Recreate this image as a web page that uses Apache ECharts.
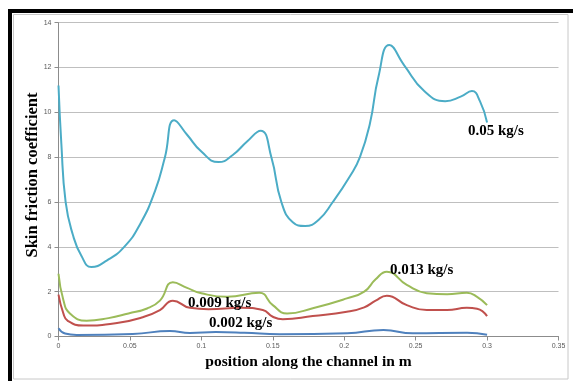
<!DOCTYPE html>
<html>
<head>
<meta charset="utf-8">
<script src="https://cdn.jsdelivr.net/npm/echarts@6/dist/echarts.min.js"></script>
<style>
  html, body { margin: 0; padding: 0; background: #ffffff; }
  #chart { width: 573px; height: 381px; }
</style>
</head>
<body>
<div id="chart"></div>
<script>
// Skin friction coefficient along the channel for four mass flow rates.
// Each series is a list of [position (m), coefficient] pairs.
const flow005 = [
  [0, 11.2], [0.002, 8.6], [0.005, 6.0], [0.01, 4.55], [0.016, 3.6],
  [0.023, 3.1], [0.034, 3.4], [0.046, 4.0], [0.057, 5.0], [0.0676, 6.5],
  [0.0745, 8.0], [0.081, 9.65], [0.09, 9.0], [0.1, 8.25], [0.112, 7.78],
  [0.122, 8.1], [0.132, 8.7], [0.1415, 9.18], [0.149, 8.0], [0.156, 6.0],
  [0.164, 5.1], [0.1726, 4.93], [0.182, 5.2], [0.192, 6.0], [0.204, 7.15],
  [0.211, 8.0], [0.218, 9.5], [0.224, 11.6], [0.2316, 13.0], [0.242, 12.1],
  [0.256, 10.95], [0.2707, 10.5], [0.2815, 10.7], [0.2894, 10.95], [0.295, 10.5],
  [0.3, 9.55]
];
const flow0013 = [
  [0, 2.8], [0.0034, 1.63], [0.008, 1.03], [0.0197, 0.7], [0.035, 0.82],
  [0.049, 1.03], [0.062, 1.25], [0.071, 1.6], [0.080, 2.42], [0.09, 2.17],
  [0.1, 1.93], [0.118, 1.77], [0.1405, 1.95], [0.150, 1.4], [0.16, 1.03],
  [0.178, 1.26], [0.2018, 1.7], [0.214, 2.0], [0.222, 2.55], [0.2298, 2.89],
  [0.2438, 2.3], [0.2578, 1.93], [0.272, 1.88], [0.2858, 1.95], [0.293, 1.77],
  [0.3, 1.4]
];
const flow0009 = [
  [0, 1.87], [0.0034, 1.03], [0.0065, 0.7], [0.0174, 0.49], [0.041, 0.6],
  [0.059, 0.86], [0.071, 1.18], [0.080, 1.6], [0.092, 1.28], [0.105, 1.22],
  [0.128, 1.28], [0.143, 1.18], [0.150, 0.88], [0.157, 0.77], [0.178, 0.91],
  [0.2018, 1.1], [0.214, 1.3], [0.222, 1.6], [0.2298, 1.82], [0.2438, 1.4],
  [0.2578, 1.18], [0.272, 1.18], [0.2858, 1.28], [0.293, 1.24], [0.3, 0.91]
];
const flow0002 = [
  [0, 0.37], [0.0046, 0.13], [0.0127, 0.07], [0.052, 0.11], [0.078, 0.25],
  [0.092, 0.16], [0.11, 0.2], [0.13, 0.17], [0.155, 0.1], [0.202, 0.14],
  [0.2275, 0.29], [0.248, 0.14], [0.286, 0.17], [0.3, 0.08]
];

const seriesNames = ['0.05 kg/s', '0.013 kg/s', '0.009 kg/s', '0.002 kg/s'];
const seriesColors = ['#4bacc6', '#9bbb59', '#c0504d', '#4f81bd'];
const seriesData = [flow005, flow0013, flow0009, flow0002];

const xTicks = { min: 0, max: 0.35, interval: 0.05 };
const yTicks = { min: 0, max: 14, interval: 2 };
const yTitle = 'Skin friction coefficient';

const labelFont = 'bold 15px "Liberation Serif", "Times New Roman", serif';

const chart = echarts.init(document.getElementById('chart'), null, { renderer: 'canvas' });

chart.setOption({
  animation: false,
  backgroundColor: '#ffffff',
  grid: { left: 58.5, top: 22.7, width: 500, height: 313.8, containLabel: false },
  xAxis: {
    type: 'value',
    min: xTicks.min, max: xTicks.max, interval: xTicks.interval,
    name: 'position along the channel in m',
    nameLocation: 'middle',
    nameGap: 17,
    nameTextStyle: { fontFamily: '"Liberation Serif", serif', fontWeight: 'bold', fontSize: 15.5, color: '#000' },
    axisLine: { show: true, onZero: false, lineStyle: { color: '#8c8c8c', width: 1 } },
    axisTick: { show: true, length: 4, lineStyle: { color: '#8c8c8c' } },
    axisLabel: { fontFamily: '"Liberation Sans", sans-serif', fontSize: 7, color: '#595959', margin: 6 },
    splitLine: { show: false }
  },
  yAxis: {
    type: 'value',
    min: yTicks.min, max: yTicks.max, interval: yTicks.interval,
    axisLine: { show: true, lineStyle: { color: '#8c8c8c', width: 1 } },
    axisTick: { show: true, length: 4, lineStyle: { color: '#8c8c8c' } },
    axisLabel: { fontFamily: '"Liberation Sans", sans-serif', fontSize: 7, color: '#595959', margin: 7 },
    splitLine: { show: true, lineStyle: { color: '#bfbfbf', width: 1 } }
  },
  series: seriesData.map((d, i) => ({
    name: seriesNames[i],
    type: 'line',
    data: d,
    smooth: 0.5,
    showSymbol: false,
    lineStyle: { color: seriesColors[i], width: 2 },
    z: 3 + i
  })),
  graphic: [
    // outer frame
    { type: 'rect', shape: { x: 13.5, y: 14.5, width: 554.5, height: 364.5 }, style: { fill: null, stroke: '#c8c8c8', lineWidth: 1 }, silent: true },
    { type: 'rect', shape: { x: 8, y: 9, width: 565, height: 4 }, style: { fill: '#000' }, silent: true },
    { type: 'rect', shape: { x: 8, y: 9, width: 4, height: 372 }, style: { fill: '#000' }, silent: true },
    // vertical axis title
    {
      type: 'text', x: 32.5, y: 175, rotation: Math.PI / 2,
      style: { text: yTitle, font: 'bold 16.5px "Liberation Serif", serif', fill: '#000', align: 'center', verticalAlign: 'middle' },
      z: 10
    },
    // series captions
    { type: 'text', left: 468, top: 124, style: { text: seriesNames[0], font: labelFont, fill: '#000' }, z: 10 },
    { type: 'text', left: 390, top: 263, style: { text: seriesNames[1], font: labelFont, fill: '#000' }, z: 10 },
    { type: 'text', left: 188, top: 296, style: { text: seriesNames[2], font: labelFont, fill: '#000' }, z: 10 },
    { type: 'text', left: 209, top: 316, style: { text: seriesNames[3], font: labelFont, fill: '#000' }, z: 10 }
  ]
});
</script>
</body>
</html>
